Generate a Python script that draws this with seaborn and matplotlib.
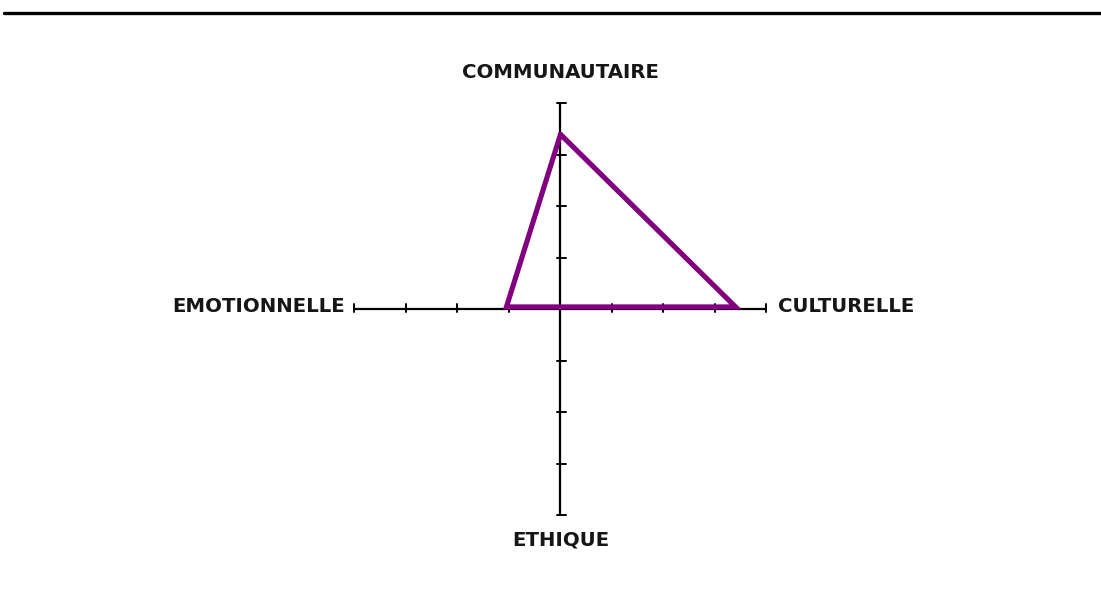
import matplotlib
matplotlib.use("Agg")
import matplotlib.pyplot as plt
import seaborn as sns
import pandas as pd
import numpy as np

# Data
axes_names = ["COMMUNAUTAIRE", "CULTURELLE", "ETHIQUE", "EMOTIONNELLE"]
scores = [3.35, 3.4, 0.0, 1.05]
max_scale = 4
tick_values = [1, 2, 3, 4]

sns.set_theme(style="white")
plt.rcParams['font.family'] = ['DejaVu Sans']

W, H, DPI = 1101, 599, 100
fig = plt.figure(figsize=(W / DPI, H / DPI), dpi=DPI)
ax = fig.add_axes([0, 0, 1, 1])

unit = 51.5  # pixels per unit
cx, cy = 560.5, 309.0  # center in pixels (y from top)
ax.set_xlim(-cx / unit, (W - cx) / unit)
ax.set_ylim(-(H - cy) / unit, cy / unit)
ax.axis("off")

dirs = {"COMMUNAUTAIRE": (0, 1), "CULTURELLE": (1, 0), "ETHIQUE": (0, -1), "EMOTIONNELLE": (-1, 0)}

# axes lines
ax.plot([-max_scale, max_scale], [0, 0], color="black", lw=1.6, zorder=1)
ax.plot([0, 0], [-max_scale, max_scale], color="black", lw=1.6, zorder=1)
t = 5.5 / unit
for v in tick_values:
    ax.plot([v, v], [-t * 0.5, t], color="black", lw=1.4, zorder=1)
    ax.plot([-v, -v], [-t * 0.5, t], color="black", lw=1.4, zorder=1)
    ax.plot([-t * 0.6, t], [v, v], color="black", lw=1.4, zorder=1)
    ax.plot([-t * 0.6, t], [-v, -v], color="black", lw=1.4, zorder=1)

# polygon
xs, ys = [], []
for name, s in zip(axes_names, scores):
    dx, dy = dirs[name]
    xs.append(dx * s)
    ys.append(dy * s)
xs.append(xs[0]); ys.append(ys[0])
df = pd.DataFrame({"x": xs, "y": np.array(ys) + 0.04})
sns.lineplot(data=df, x="x", y="y", sort=False, estimator=None, color="#800080",
             lw=3.7, ax=ax, zorder=3, solid_joinstyle="miter")

# labels
fs = 14.2
lab_kw = dict(fontsize=fs, fontweight="bold", color="#161616")
ax.text(0, (cy - 73) / unit, "COMMUNAUTAIRE", ha="center", va="center", **lab_kw)
ax.text((778 - cx) / unit, (cy - 306) / unit, "CULTURELLE", ha="left", va="center", **lab_kw)
ax.text((345 - cx) / unit, (cy - 306) / unit, "EMOTIONNELLE", ha="right", va="center", **lab_kw)
ax.text(0, (cy - 540) / unit, "ETHIQUE", ha="center", va="center", **lab_kw)

# top rule
fig.add_artist(plt.Line2D([4 / W, 1.0], [1 - 13 / H, 1 - 13 / H], color="black", lw=2.4,
                          transform=fig.transFigure))

fig.savefig("out.png", dpi=DPI)
